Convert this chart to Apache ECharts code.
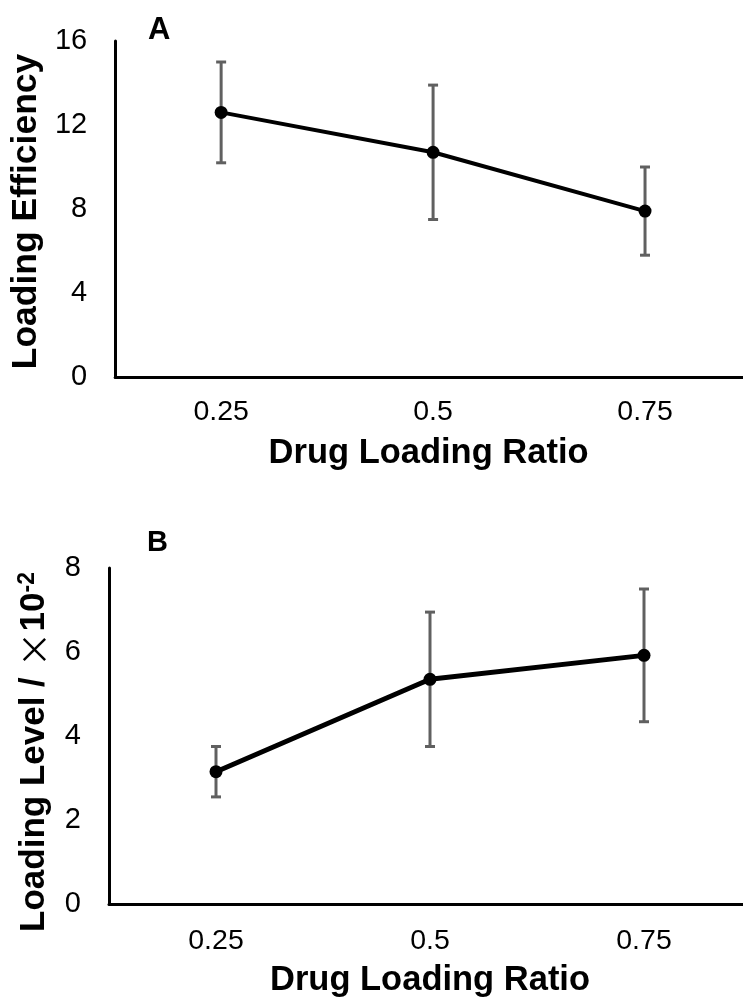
<!DOCTYPE html>
<html>
<head>
<meta charset="utf-8">
<script src="https://cdn.jsdelivr.net/npm/echarts@6/dist/echarts.min.js"></script>
<style>html,body{margin:0;padding:0;background:#fff;overflow:hidden}#c{width:760px;height:1007px}</style>
</head>
<body>
<div id="c"></div>
<script>
// ---- data ----
const categories = ['0.25', '0.5', '0.75'];
const efficiencyMean = [12.6, 10.7, 7.9];
const efficiencySd = [2.4, 3.2, 2.1];
const levelMean = [3.15, 5.35, 5.92];
const levelSd = [0.6, 1.6, 1.58];
const efficiencyAxis = { min: 0, max: 16, interval: 4 };
const levelAxis = { min: 0, max: 8, interval: 2 };
const panelLabels = ['A', 'B'];
const xTitle = 'Drug Loading Ratio';
const yTitleA = 'Loading Efficiency';

const FONT = 'Liberation Sans';
const ERR = '#606060';

function errorSeries(xi, yi, mean, sd) {
  return {
    type: 'custom', xAxisIndex: xi, yAxisIndex: yi, z: 1, silent: true,
    data: mean.map((m, i) => [i, m - sd[i], m + sd[i]]),
    renderItem: function (params, api) {
      const lo = api.coord([api.value(0), api.value(1)]);
      const hi = api.coord([api.value(0), api.value(2)]);
      const w = 5;
      const style = { stroke: ERR, lineWidth: 3, fill: null };
      return {
        type: 'group', children: [
          { type: 'line', shape: { x1: lo[0], y1: lo[1], x2: hi[0], y2: hi[1] }, style: style },
          { type: 'line', shape: { x1: lo[0] - w, y1: lo[1], x2: lo[0] + w, y2: lo[1] }, style: style },
          { type: 'line', shape: { x1: hi[0] - w, y1: hi[1], x2: hi[0] + w, y2: hi[1] }, style: style }
        ]
      };
    }
  };
}

function xAxis(gi, margin, pad) {
  return {
    type: 'category', gridIndex: gi, data: categories, boundaryGap: true,
    axisLine: { lineStyle: { color: '#000', width: 3 } },
    axisTick: { show: false },
    axisLabel: { color: '#000', fontSize: 28.5, fontFamily: FONT, margin: margin },
    name: xTitle, nameLocation: 'middle', nameGap: 59,
    nameTextStyle: { color: '#000', fontSize: 34.5, fontWeight: 'bold', fontFamily: FONT, padding: pad }
  };
}

function yAxis(gi, ax, name, gap, extra) {
  return Object.assign({
    type: 'value', gridIndex: gi, min: ax.min, max: ax.max, interval: ax.interval,
    axisLine: { show: true, lineStyle: { color: '#000', width: 3 } },
    axisTick: { show: false },
    splitLine: { show: false },
    axisLabel: { color: '#000', fontSize: 29, fontFamily: FONT, margin: 28 },
    name: name, nameLocation: 'middle', nameGap: gap, nameRotate: 90
  }, extra);
}

const chart = echarts.init(document.getElementById('c'), null, { renderer: 'canvas' });
chart.setOption({
  animation: false,
  backgroundColor: '#fff',
  grid: [
    { left: 115, top: 41, width: 636, height: 336 },
    { left: 109, top: 568, width: 642, height: 336 }
  ],
  xAxis: [xAxis(0, 21, [0, 9, 0, 0]), xAxis(1, 23, [0, 0, 0, 0])],
  yAxis: [
    yAxis(0, efficiencyAxis, yTitleA, 63, {
      nameTextStyle: { color: '#000', fontSize: 35.5, fontWeight: 'bold', fontFamily: FONT, padding: [0, 5, 0, 0] }
    }),
    yAxis(1, levelAxis, '{b|Loading Level / }{x|×}{b|10}{s|-2}', 57, {
      nameTextStyle: {
        color: '#000', fontSize: 35, fontWeight: 'bold', fontFamily: FONT, padding: [0, 32, 0, 0],
        rich: {
          b: { fontSize: 35, fontWeight: 'bold', fontFamily: FONT, color: '#000' },
          x: { fontSize: 36, fontWeight: 'normal', fontFamily: 'Noto Sans CJK SC', color: '#000' },
          s: { fontSize: 23, fontWeight: 'bold', fontFamily: FONT, color: '#000', verticalAlign: 'top' }
        }
      }
    })
  ],
  graphic: [
    { type: 'text', left: 148, top: 15, style: { text: panelLabels[0], font: 'bold 31px "Liberation Sans"', fill: '#000' } },
    { type: 'text', left: 147, top: 528, style: { text: panelLabels[1], font: 'bold 29px "Liberation Sans"', fill: '#000' } }
  ],
  series: [
    errorSeries(0, 0, efficiencyMean, efficiencySd),
    {
      type: 'line', xAxisIndex: 0, yAxisIndex: 0, z: 3, data: efficiencyMean,
      symbol: 'circle', symbolSize: 13,
      lineStyle: { color: '#000', width: 4 }, itemStyle: { color: '#000' }
    },
    errorSeries(1, 1, levelMean, levelSd),
    {
      type: 'line', xAxisIndex: 1, yAxisIndex: 1, z: 3, data: levelMean,
      symbol: 'circle', symbolSize: 13,
      lineStyle: { color: '#000', width: 5 }, itemStyle: { color: '#000' }
    }
  ]
});
</script>
</body>
</html>
